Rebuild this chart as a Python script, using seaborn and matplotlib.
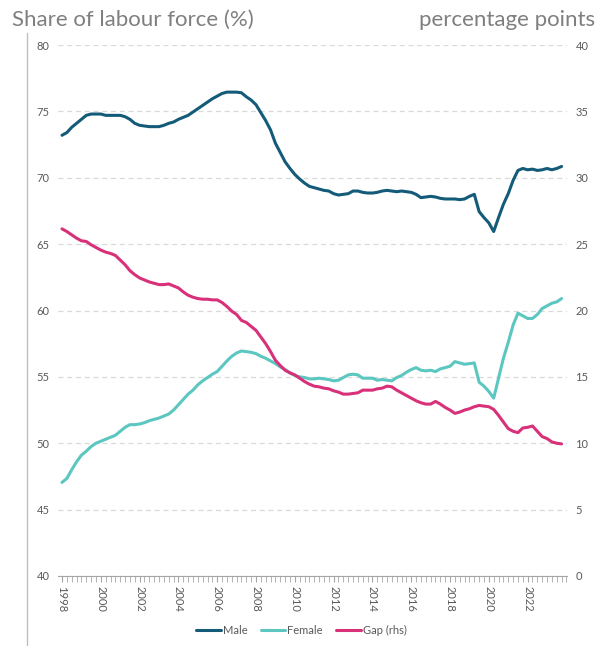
import numpy as np
import pandas as pd
import matplotlib
matplotlib.use("Agg")
import matplotlib.pyplot as plt
from matplotlib.lines import Line2D
from matplotlib.ticker import MultipleLocator
import seaborn as sns

# quarterly, 1998Q1 - 2023Q4
male = [73.2, 73.4, 73.8, 74.1,
        74.4, 74.7, 74.8, 74.8,
        74.8, 74.7, 74.7, 74.7,
        74.7, 74.6, 74.4, 74.1,
        73.95, 73.9, 73.85, 73.85,
        73.85, 73.95, 74.1, 74.2,
        74.4, 74.55, 74.7, 74.95,
        75.2, 75.45, 75.7, 75.95,
        76.15, 76.35, 76.45, 76.45,
        76.45, 76.4, 76.1, 75.85,
        75.5, 74.9, 74.3, 73.6,
        72.6, 71.9, 71.2, 70.7,
        70.25, 69.9, 69.6, 69.35,
        69.25, 69.15, 69.05, 69.0,
        68.8, 68.7, 68.75, 68.8,
        69.0, 69.0, 68.9, 68.85,
        68.85, 68.9, 69.0, 69.05,
        69.0, 68.95, 69.0, 68.95,
        68.9, 68.75, 68.5, 68.55,
        68.6, 68.55, 68.45, 68.4,
        68.4, 68.4, 68.35, 68.4,
        68.6, 68.75, 67.45, 67.0,
        66.6, 65.95, 67.0, 68.0,
        68.8, 69.8, 70.55, 70.7,
        70.6, 70.65, 70.55, 70.6,
        70.7, 70.6, 70.7, 70.85]

female = [47.05, 47.35, 48.0, 48.6,
          49.1, 49.4, 49.75, 50.0,
          50.15, 50.3, 50.45, 50.6,
          50.9, 51.2, 51.4, 51.4,
          51.45, 51.55, 51.7, 51.8,
          51.9, 52.05, 52.2, 52.5,
          52.9, 53.3, 53.7, 54.0,
          54.4, 54.7, 54.95, 55.2,
          55.4, 55.8, 56.2, 56.55,
          56.8, 56.95, 56.9, 56.85,
          56.75, 56.55, 56.4, 56.2,
          56.0, 55.75, 55.55, 55.3,
          55.1, 55.0, 54.95, 54.85,
          54.85, 54.9, 54.85, 54.8,
          54.7, 54.75, 54.95, 55.15,
          55.2, 55.15, 54.9, 54.9,
          54.9, 54.75, 54.8, 54.75,
          54.7, 54.95, 55.1, 55.35,
          55.55, 55.7, 55.5, 55.45,
          55.5, 55.4, 55.6, 55.7,
          55.8, 56.15, 56.05, 55.95,
          56.0, 56.05, 54.6, 54.3,
          53.9, 53.4, 54.9, 56.4,
          57.6, 58.9, 59.8, 59.6,
          59.4, 59.4, 59.7, 60.15,
          60.35, 60.55, 60.65, 60.9]

# gap in percentage points (right axis)
gap = [26.15, 25.95, 25.7, 25.45,
       25.25, 25.2, 24.95, 24.75,
       24.55, 24.4, 24.3, 24.15,
       23.8, 23.45, 23.0, 22.7,
       22.45, 22.3, 22.15, 22.05,
       21.95, 21.95, 22.0, 21.85,
       21.7, 21.4, 21.15, 21.0,
       20.9, 20.85, 20.85, 20.8,
       20.8, 20.6, 20.3, 19.95,
       19.7, 19.25, 19.1, 18.8,
       18.5, 18.0, 17.5, 16.9,
       16.25, 15.85, 15.5, 15.3,
       15.15, 14.9, 14.65, 14.45,
       14.3, 14.25, 14.15, 14.1,
       13.95, 13.85, 13.7, 13.7,
       13.75, 13.8, 14.0, 14.0,
       14.0, 14.1, 14.15, 14.3,
       14.25, 14.0, 13.8, 13.6,
       13.4, 13.2, 13.05, 12.95,
       12.95, 13.15, 12.95, 12.7,
       12.5, 12.25, 12.35, 12.5,
       12.6, 12.75, 12.85, 12.8,
       12.75, 12.55, 12.1, 11.6,
       11.1, 10.9, 10.8, 11.15,
       11.2, 11.3, 10.9, 10.5,
       10.35, 10.1, 10.0, 9.95]

year_labels = list(range(1998, 2023, 2))

quarters = 1998 + np.arange(len(male)) / 4
df = pd.DataFrame({"t": quarters, "Male": male, "Female": female, "Gap (rhs)": gap})

sns.set_style("white")
plt.rcParams["font.family"] = ["Lato", "DejaVu Sans"]

c_male = "#135b78"
c_female = "#5cc6c0"
c_gap = "#d8317a"
grey = "#595959"

fig = plt.figure(figsize=(6.03, 6.46), dpi=100)
ax = fig.add_axes([58 / 603, 70 / 646, 509 / 603, 531 / 646])
ax2 = ax.twinx()

sns.lineplot(data=df, x="t", y="Male", ax=ax, color=c_male, lw=2.2)
sns.lineplot(data=df, x="t", y="Female", ax=ax, color=c_female, lw=2.2)
sns.lineplot(data=df, x="t", y="Gap (rhs)", ax=ax2, color=c_gap, lw=2.2)

ax.set_ylim(40, 80)
ax2.set_ylim(0, 40)
ax.set_xlim(1998 - 4 / 19.4, 2023.75 + 5.4 / 19.4)
ax.set_yticks(range(40, 81, 5))
ax2.set_yticks(range(0, 41, 5))

for a in (ax, ax2):
    for s in a.spines.values():
        s.set_visible(False)
    a.set_xlabel("")
    a.set_ylabel("")
    a.tick_params(axis="y", length=0, labelsize=8, labelcolor=grey, pad=6)

ax.yaxis.grid(True, ls=(0, (4, 3)), color="#d9d9d9", lw=0.9)
ax.spines["bottom"].set_visible(True)
ax.spines["bottom"].set_color("#a6a6a6")
ax.set_xticks(year_labels)
ax.set_xticklabels([str(y) for y in year_labels], rotation=-90)
ax.xaxis.set_minor_locator(MultipleLocator(0.25))
ax.tick_params(axis="x", which="both", direction="out", length=4, color="#a6a6a6",
               bottom=True, labelsize=8, labelcolor=grey, pad=3)

fig.text(12 / 603, 1 - 20 / 646, "Share of labour force (%)", fontsize=16,
         color="#7f7f7f", va="center", ha="left")
fig.text(595 / 603, 1 - 20 / 646, "percentage points", fontsize=16,
         color="#7f7f7f", va="center", ha="right")
fig.add_artist(Line2D([27 / 603, 27 / 603], [0, 1 - 33 / 646], color="#bfbfbf", lw=1))

handles = [Line2D([], [], color=c, lw=2.2) for c in (c_male, c_female, c_gap)]
fig.legend(handles, ["Male", "Female", "Gap (rhs)"], loc="center",
           bbox_to_anchor=(0.5, 1 - 630 / 646), ncol=3, frameon=False,
           fontsize=8, labelcolor=grey, handlelength=2.2, handletextpad=0.2,
           columnspacing=1.2)

fig.savefig("out.png", dpi=100)
